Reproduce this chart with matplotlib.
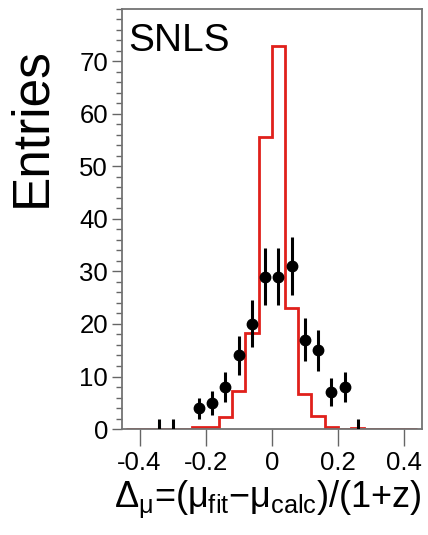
import numpy as np
import matplotlib
matplotlib.use("Agg")
import matplotlib.pyplot as plt
from matplotlib.ticker import MultipleLocator

plt.rcParams['font.family'] = ['Liberation Sans', 'DejaVu Sans']
plt.rcParams['mathtext.fontset'] = 'custom'
plt.rcParams['mathtext.rm'] = 'Liberation Sans'
plt.rcParams['mathtext.it'] = 'Liberation Sans'

# Simulation histogram (red), bin edges and contents
bin_edges = np.round(np.arange(-0.44, 0.4401, 0.04), 2)
sim_counts = [0, 0, 0, 0.1, 0.1, 0.35, 0.45, 2.3, 7.2, 18.2, 55.6, 72.8,
              23.0, 6.6, 2.4, 0.4, 0.0, 0.15, 0, 0, 0, 0]

# Data points (black)
data_x = [-0.34, -0.30, -0.22, -0.18, -0.14, -0.10, -0.06, -0.02, 0.02, 0.06,
          0.10, 0.14, 0.18, 0.22, 0.26]
data_y = [0, 0, 4, 5, 8, 14, 20, 29, 29, 31, 17, 15, 7, 8, 0]

fig = plt.figure(figsize=(4.28, 5.35), dpi=100)
ax = fig.add_axes([0.285, 0.198, 0.700, 0.786])

ax.stairs(sim_counts, bin_edges, color='#e0201b', linewidth=2.0, baseline=None)

dy = np.array(data_y, dtype=float)
err_lo = np.sqrt(dy)
err_hi = np.where(dy == 0, 1.84, np.sqrt(dy))
nz = dy > 0
ax.errorbar(np.array(data_x)[nz], dy[nz], yerr=[err_lo[nz], err_hi[nz]], fmt='o',
            color='black', markersize=7.5, elinewidth=2.2, capsize=0, zorder=3)
ax.errorbar(np.array(data_x)[~nz], dy[~nz], yerr=[err_lo[~nz], err_hi[~nz]], fmt='none',
            ecolor='black', elinewidth=2.2, capsize=0, zorder=3)

ax.set_xlim(-0.453, 0.453)
ax.set_ylim(0, 80)
ax.set_xticks([-0.4, -0.2, 0, 0.2, 0.4])
ax.set_xticklabels(['-0.4', '-0.2', '0', '0.2', '0.4'])
ax.set_yticks(range(0, 80, 10))
ax.yaxis.set_minor_locator(MultipleLocator(2))
ax.tick_params(axis='x', which='major', direction='out', length=12, width=1.0,
               color='0.4', labelsize=18.5, pad=4)
ax.tick_params(axis='y', which='major', direction='out', length=7, width=1.0,
               color='0.4', labelsize=18.5, pad=3)
ax.tick_params(axis='y', which='minor', direction='out', length=4, width=1.0, color='0.4')
for s in ax.spines.values():
    s.set_color('0.45')
    s.set_linewidth(1.3)

ax.text(0.02, 0.899, 'SNLS', transform=ax.transAxes, fontsize=28,
        ha='left', va='baseline')

fig.text(0.075, 0.763, 'Entries', rotation=90, fontsize=37, ha='center', va='center')
fig.text(0.626, 0.066, r'$\Delta_{\mu}$=($\mu_{\mathrm{fit}}$$-$$\mu_{\mathrm{calc}}$)/(1+z)',
         fontsize=26, ha='center', va='center')

fig.savefig('out.png', dpi=100)
